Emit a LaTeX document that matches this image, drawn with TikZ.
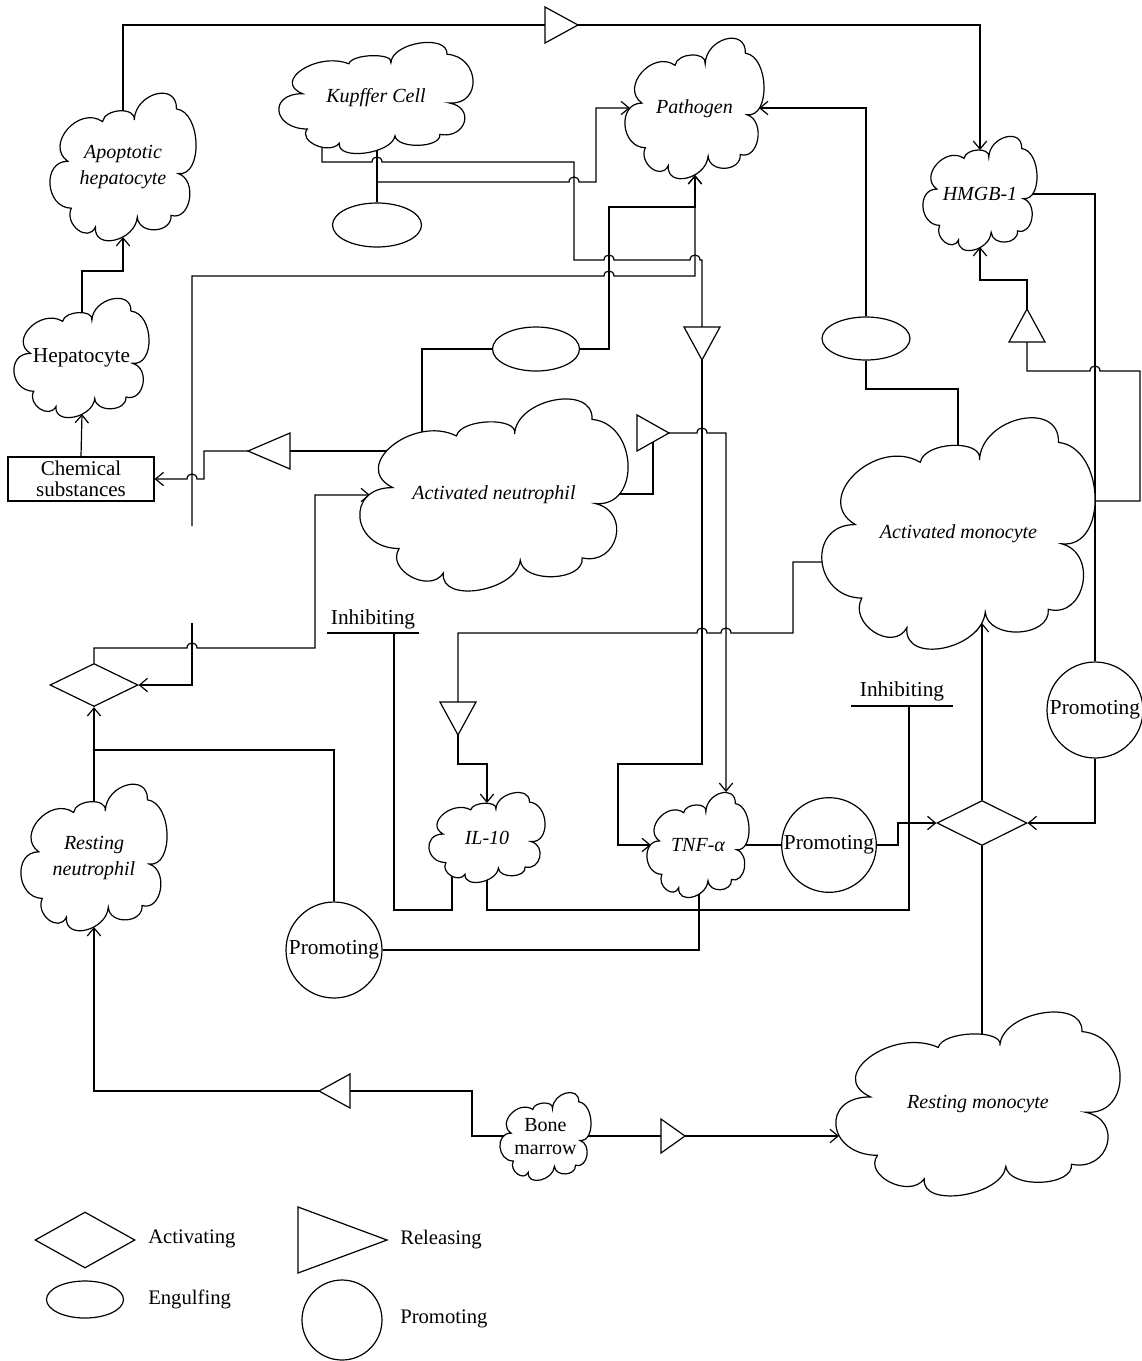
\documentclass[tikz,border=0pt]{standalone}
\usepackage{fontspec}
\setmainfont{Liberation Serif}
\usetikzlibrary{arrows.meta,shapes.geometric,backgrounds}

\newcommand\hopR[2]{-- ({#1-5},#2) .. controls ({#1-5},{#2-6.67}) and ({#1+5},{#2-6.67}) .. ({#1+5},#2)}
\newcommand\hopL[2]{-- ({#1+5},#2) .. controls ({#1+5},{#2-6.67}) and ({#1-5},{#2-6.67}) .. ({#1-5},#2)}
\newcommand\cloudpath{(-0.378,-0.039)
 .. controls (-0.539,-0.152) and (-0.301,-0.424) .. (-0.140,-0.311)
 .. controls (-0.125,-0.403) and (0.092,-0.413) .. (0.077,-0.321)
 .. controls (0.083,-0.508) and (0.372,-0.585) .. (0.366,-0.398)
 .. controls (0.537,-0.376) and (0.549,0.067) .. (0.378,0.045)
 .. controls (0.513,0.088) and (0.464,0.374) .. (0.329,0.331)
 .. controls (0.338,0.455) and (0.107,0.467) .. (0.098,0.343)
 .. controls (0.085,0.507) and (-0.202,0.575) .. (-0.189,0.411)
 .. controls (-0.240,0.522) and (-0.405,0.393) .. (-0.354,0.282)
 .. controls (-0.533,0.280) and (-0.557,-0.041) .. (-0.378,-0.039) -- cycle}
\newcommand\vcloud[7][]{%
  \draw[cloudline,shift={(#3,#4)},xscale=#5,yscale=#6] \cloudpath;
  \node[celltxt,#1] (#2) at (#3,#4) {#7};}

\begin{document}
\begin{tikzpicture}[x=0.75pt,y=-0.75pt,
  conn/.style={draw,line width=0.9pt},
  arr/.style={conn,-{Straight Barb[length=6pt,width=10pt]}},
  cloudline/.style={draw,fill=white,line width=0.9pt},
  celltxt/.style={font=\fontsize{15}{19.5}\selectfont\itshape,align=center,inner sep=0pt},
  plaintxt/.style={font=\fontsize{16}{16}\selectfont,align=center,inner sep=0pt},
  legtxt/.style={font=\fontsize{15.5}{16}\selectfont,anchor=west,inner sep=0pt},
  tri/.style={draw,fill=white,line width=0.9pt,line join=miter},
  eng/.style={ellipse,draw,fill=white,line width=0.9pt,inner sep=0pt},
  act/.style={diamond,draw,fill=white,line width=0.9pt,inner sep=0pt},
  prom/.style={circle,draw,fill=white,line width=0.9pt,inner sep=0pt},
]
\useasboundingbox (0,0) rectangle (1142,1361);

% ---------------- clouds ----------------
\vcloud{apop}{123}{167}{146}{146}{Apoptotic\\hepatocyte}
\vcloud{kup}{376}{98}{194}{110}{Kupffer Cell}
\vcloud{pat}{694.5}{108.5}{139}{139}{Pathogen}
\vcloud{hmgb}{980}{193.5}{114}{113}{HMGB-1}
\vcloud[font=\fontsize{16}{16}\selectfont\upshape]{hepc}{81.5}{358}{135}{118}{Hepatocyte}
\vcloud{actn}{494}{495}{268}{190}{Activated neutrophil}
\vcloud{actm}{958.5}{533.5}{273}{229}{Activated monocyte}
\vcloud{tnf}{698}{845}{102}{104}{TNF-α}
\vcloud{ilten}{487}{837.5}{116}{89}{IL-10}
\vcloud{restn}{94}{857.5}{146}{145}{Resting\\neutrophil}
\vcloud{restm}{978}{1104}{284}{182}{Resting monocyte}
\vcloud[font=\fontsize{15}{17}\selectfont\upshape]{bone}{545.5}{1136.5}{91}{87}{Bone\\marrow}

% ---------------- engulfing ellipses ----------------
\node[eng,minimum width=66.75pt,minimum height=33pt] (eng1) at (377,225) {};
\node[eng,minimum width=65.25pt,minimum height=33pt] (eng2) at (536,349) {};
\node[eng,minimum width=66pt,minimum height=32.25pt] (eng3) at (866,338.5) {};

% ---------------- box ----------------
\node[draw,fill=white,line width=0.9pt,minimum width=109.5pt,minimum height=33pt,inner sep=0pt,
      font=\fontsize{15.75}{15.75}\selectfont,align=center] (chem) at (81,479) {Chemical\\substances};

% ---------------- activating diamonds ----------------
\node[act,minimum width=66pt,minimum height=32.25pt] (d1) at (94,685) {};
\node[act,minimum width=67.5pt,minimum height=33.75pt] (d2) at (982,823) {};

% ---------------- promoting circles ----------------
\node[prom,minimum size=72pt] (prom1) at (334,950) {};
\node[plaintxt] at (prom1) {Promoting};
\node[prom,minimum size=71pt] (prom2) at (829,845) {};
\node[plaintxt] at (prom2) {Promoting};
\node[prom,minimum size=72pt] (prom3) at (1095,710) {};
\node[plaintxt] at (prom3) {Promoting};

% ---------------- inhibiting labels ----------------
\node[plaintxt] (inh1) at (373,619) {Inhibiting};
\draw[conn] (327,633) -- (419,633);
\coordinate (inh1u) at (394,633);
\node[plaintxt] (inh2) at (902,691) {Inhibiting};
\draw[conn] (851,706) -- (953,706);
\coordinate (inh2u) at (909,706);

% ---------------- releasing triangles ----------------
\draw[tri] (545,7) -- (578,25) -- (545,43) -- cycle;
\coordinate (rel1-b) at (545,25); \coordinate (rel1-a) at (578,25);
\draw[tri] (684,327) -- (720,327) -- (702,360) -- cycle;
\coordinate (rel2-b) at (702,327); \coordinate (rel2-a) at (702,360);
\draw[tri] (290,433) -- (290,469) -- (248,451) -- cycle;
\coordinate (rel3-b) at (290,451); \coordinate (rel3-a) at (248,451);
\draw[tri] (637,415) -- (669,433) -- (637,451) -- cycle;
\coordinate (rel4-in) at (653,438); \coordinate (rel4-a) at (669,433);
\draw[tri] (440,702) -- (476,702) -- (458,735) -- cycle;
\coordinate (rel5-b) at (458,702); \coordinate (rel5-a) at (458,735);
\draw[tri] (1009,342) -- (1045,342) -- (1027,309) -- cycle;
\coordinate (rel6-b) at (1027,342); \coordinate (rel6-a) at (1027,309);
\draw[tri] (350,1074) -- (350,1108) -- (319,1091) -- cycle;
\coordinate (rel7-b) at (350,1091); \coordinate (rel7-a) at (319,1091);
\draw[tri] (661,1119) -- (685,1136) -- (661,1153) -- cycle;
\coordinate (rel8-b) at (661,1136); \coordinate (rel8-a) at (685,1136);

% ---------------- legend ----------------
\node[act,minimum width=75pt,minimum height=42pt] (legact) at (85,1240) {};
\node[legtxt] at (148,1239) {Activating};
\node[eng,minimum width=57.75pt,minimum height=27.75pt] (legeng) at (85,1299.5) {};
\node[legtxt] at (148,1299) {Engulfing};
\draw[tri] (298,1207) -- (387,1240) -- (298,1273) -- cycle;
\node[legtxt] at (400,1240) {Releasing};
\node[prom,minimum size=60pt] (legprom) at (342,1320) {};
\node[legtxt] at (400,1319) {Promoting};

% ---------------- connectors ----------------
\begin{pgfonlayer}{background}
\fill[white] (0,0) rectangle (1142,1361);
% Kupffer -> releasing -> TNF
\draw[conn] (322,120) -- (322,162) \hopR{377}{162} -- (574,162) -- (574,260) \hopR{609}{260} \hopR{695}{260} -- (702,260) -- (rel2-b);
\draw[arr] (rel2-a) -- (702,764) -- (618,764) -- (618,845) -- (651,845);
% Kupffer - engulfing - pathogen
\draw[conn] (377,130) -- (eng1.north);
\draw[arr] (377,182) \hopR{574}{182} -- (596,182) -- (596,108) -- (630,108);
% long line to pathogen bottom
\draw[arr] (192,526) -- (192,276) \hopR{609}{276} -- (695,276) -- (695,175);
\draw[arr] (192,623) -- (192,685) -- (d1.east);
% activated neutrophil - engulfing - pathogen
\draw[conn] (eng2.west) -- (422,349) -- (422,450);
\draw[arr] (eng2.east) -- (609,349) -- (609,207) -- (695,207) -- (695,175);
% activated neutrophil -> releasing -> chemical substances
\draw[conn] (400,451) -- (rel3-b);
\draw[arr] (rel3-a) -- (204,451) -- (204,479) \hopL{192}{479} -- (chem.east);
% activating -> activated neutrophil
\draw[arr] (d1.north) -- (94,648) \hopR{192}{648} -- (315,648) -- (315,495) -- (370,495);
% activated neutrophil -> releasing -> TNF
\draw[conn] (590,494) -- (653,494) -- (rel4-in);
\draw[arr] (rel4-a) \hopR{702}{433} -- (726,433) -- (726,792);
% activated monocyte -> releasing -> IL-10
\draw[conn] (830,562) -- (793,562) -- (793,633) \hopL{726}{633} \hopL{702}{633} -- (458,633) -- (rel5-b);
\draw[arr] (rel5-a) -- (458,764) -- (487,764) -- (487,803);
% activated monocyte - engulfing - pathogen
\draw[conn] (958,460) -- (958,389) -- (866,389) -- (eng3.south);
\draw[arr] (eng3.north) -- (866,108) -- (759,108);
% activated monocyte -> releasing -> HMGB-1
\draw[conn] (1080,501) -- (1140,501) -- (1140,371) \hopL{1095}{371} -- (1027,371) -- (rel6-b);
\draw[arr] (rel6-a) -- (1027,280) -- (980,280) -- (980,247);
% HMGB-1 -> promoting -> activating
\draw[conn] (1020,194) -- (1095,194) -- (prom3.north);
\draw[arr] (prom3.south) -- (1095,823) -- (d2.east);
% apoptotic hepatocyte -> releasing -> HMGB-1
\draw[conn] (123,130) -- (123,25) -- (rel1-b);
\draw[arr] (rel1-a) -- (980,25) -- (980,150);
% hepatocyte -> apoptotic ; chemical -> hepatocyte
\draw[arr] (82,330) -- (82,271) -- (123,271) -- (123,237);
\draw[arr] (chem.north) -- (82,414);
% IL-10 inhibiting
\draw[conn] (inh1u) -- (394,910) -- (452,910) -- (452,860);
\draw[conn] (inh2u) -- (909,910) -- (487,910) -- (487,860);
% TNF -> promoting -> activating (monocyte)
\draw[conn] (735,845) -- (prom2.west);
\draw[arr] (prom2.east) -- (898,845) -- (898,823) -- (d2.west);
% TNF -> promoting -> neutrophil line
\draw[conn] (699,870) -- (699,950) -- (prom1.east);
\draw[conn] (prom1.north) -- (334,750) -- (94,750);
% resting neutrophil -> activating
\draw[arr] (94,830) -- (d1.south);
% activating -> activated monocyte ; resting monocyte -> activating
\draw[arr] (d2.north) -- (982,623);
\draw[conn] (d2.south) -- (982,1060);
% bone marrow -> releasing -> resting cells
\draw[conn] (520,1136) -- (472,1136) -- (472,1091) -- (rel7-b);
\draw[arr] (rel7-a) -- (94,1091) -- (94,927);
\draw[conn] (570,1136) -- (rel8-b);
\draw[arr] (rel8-a) -- (839,1136);
\end{pgfonlayer}
\end{tikzpicture}
\end{document}
